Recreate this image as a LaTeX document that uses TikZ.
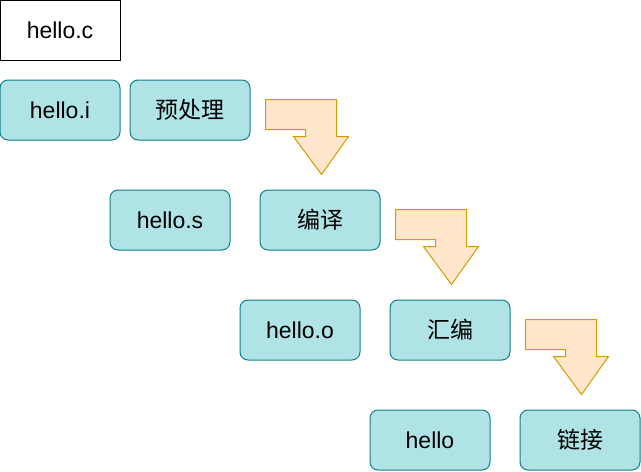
\documentclass[tikz,border=0pt]{standalone}
\usepackage{fontspec}
\setmainfont{Liberation Sans}
\newfontfamily\cjk{Noto Sans CJK SC}
\usetikzlibrary{positioning}
\definecolor{boxfill}{HTML}{B0E3E6}
\definecolor{boxline}{HTML}{0E8088}
\definecolor{arrfill}{HTML}{FFE6CC}
\definecolor{arrline}{HTML}{D79B00}
\tikzset{
	file node/.style={rectangle,draw,minimum width=120pt,minimum height=60pt,inner sep=0pt,font=\fontsize{23}{27}\selectfont},
	stage node/.style={file node,rounded corners=8pt,draw=boxline,fill=boxfill},
	step arrow/.style={draw=arrline,fill=arrfill,line join=miter}
}

\begin{document}
\begin{tikzpicture}[x=1pt,y=-1pt,line width=1pt]
            \useasboundingbox (0,0) rectangle (641,472);
            \node [file node] (c) at (60,30) {hello.c};
            \node [stage node] (i) at (60,110) {hello.i};
            \node [stage node] (pre) at (190,110) {\cjk 预处理};
            \node [stage node] (s) at (170,220) {hello.s};
            \node [stage node] (comp) at (320,220) {\cjk 编译};
            \node [stage node] (o) at (300,330) {hello.o};
            \node [stage node] (asm) at (450,330) {\cjk 汇编};
            \node [stage node] (exe) at (430,440) {hello};
            \node [stage node] (link) at (580,440) {\cjk 链接};
            % bent arrows after each stage
            \foreach \st in {pre,comp,asm}
              \draw [step arrow] ([shift={(15,20)}]\st.north east) -- ++(71,0) -- ++(0,37) -- ++(12,0)
                -- ++(-27,38) -- ++(-28,-38) -- ++(12,0) -- ++(0,-7) -- ++(-40,0) -- cycle;
          \end{tikzpicture}
\end{document}
